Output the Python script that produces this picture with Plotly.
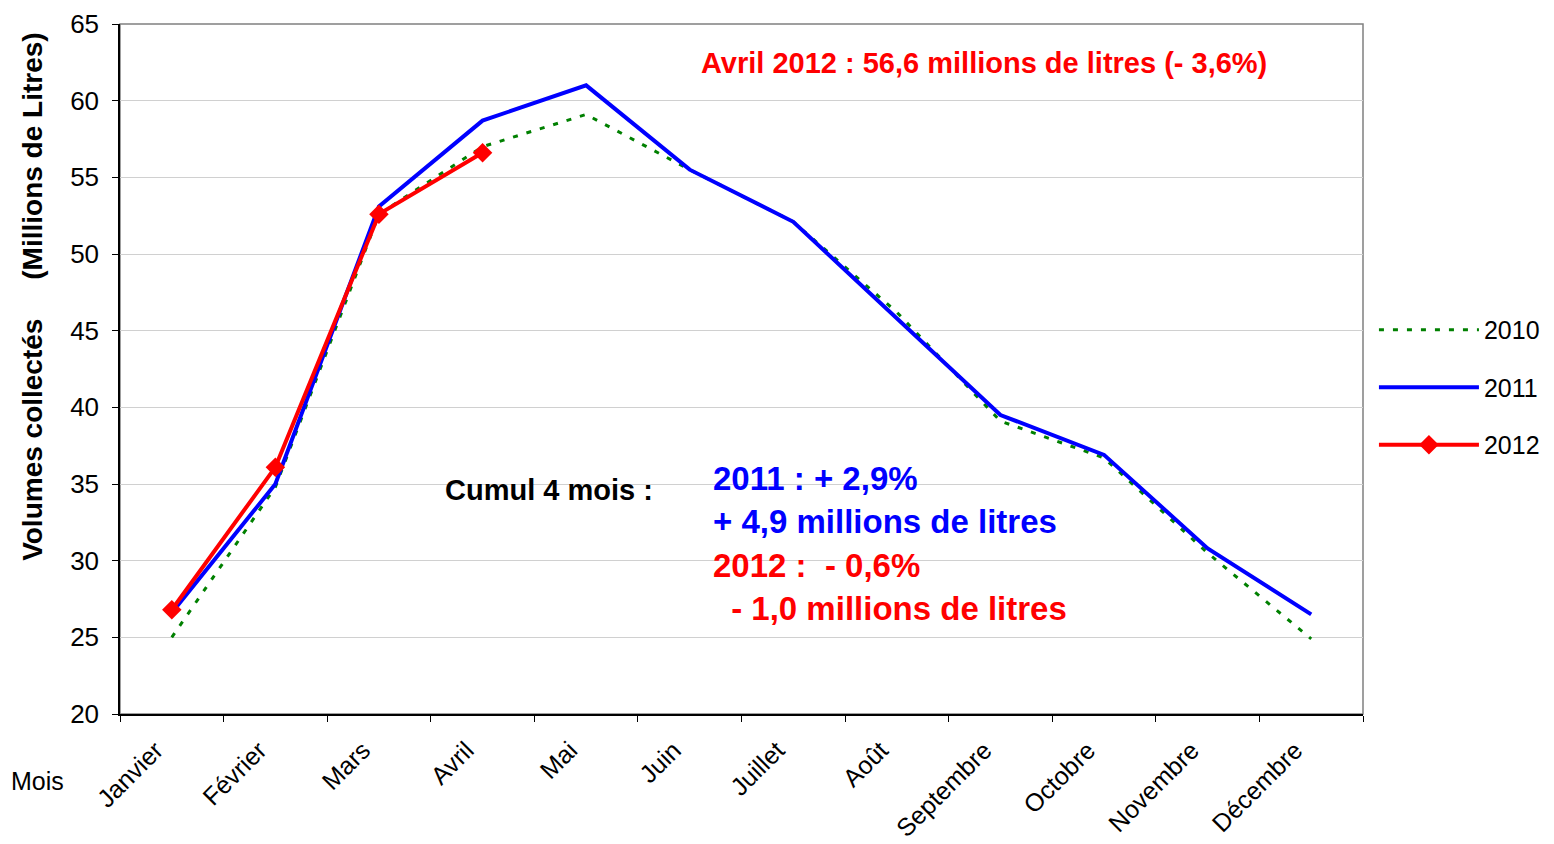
import plotly.graph_objects as go

# Mois
MONTHS = ["Janvier", "Février", "Mars", "Avril", "Mai", "Juin", "Juillet",
          "Août", "Septembre", "Octobre", "Novembre", "Décembre"]

# Volumes collectés (millions de litres)
VOL_2010 = [25.0, 34.8, 52.6, 57.0, 59.1, 55.5, 52.1, 46.2, 39.1, 36.7, 30.5, 24.9]
VOL_2011 = [26.6, 35.0, 53.1, 58.7, 61.0, 55.5, 52.1, 45.8, 39.5, 36.9, 30.8, 26.5]
VOL_2012 = [26.8, 36.1, 52.6, 56.6]

Y_TICKS = [20, 25, 30, 35, 40, 45, 50, 55, 60, 65]

FONT = "Liberation Sans, Arial, sans-serif"
NBSP = "\u00a0"

fig = go.Figure()

fig.add_trace(go.Scatter(
    x=MONTHS, y=VOL_2010, name="2010", mode="lines",
    line=dict(color="#008000", width=3, dash="5px,9px"),
    legendgroup="a",
))
fig.add_trace(go.Scatter(
    x=MONTHS, y=VOL_2011, name="2011", mode="lines",
    line=dict(color="#0000FF", width=4),
    legendgroup="b",
))
fig.add_trace(go.Scatter(
    x=MONTHS[:len(VOL_2012)], y=VOL_2012, name="2012", mode="lines+markers",
    line=dict(color="#FF0000", width=4),
    marker=dict(symbol="diamond", size=15, color="#FF0000"),
    legendgroup="c",
))

# cadre gris du graphique
fig.add_shape(type="rect", xref="paper", yref="paper", x0=0, y0=0, x1=1, y1=1,
              line=dict(color="#808080", width=1.5), layer="below")

def note(text, x, y, color, anchor="left", size=29, bold=True):
    fig.add_annotation(
        text=f"<b>{text}</b>" if bold else text,
        xref="paper", yref="paper", x=x, y=y,
        xanchor=anchor, yanchor="middle", showarrow=False,
        font=dict(family=FONT, size=size, color=color),
    )

note("Avril 2012 : 56,6 millions de litres (- 3,6%)", 0.695, 0.9435, "#FF0000", anchor="center")
note("Cumul 4 mois :", 0.26, 0.3246, "#000000")
note("2011 : + 2,9%", 0.4755, 0.342, "#0000FF", size=33)
note("+ 4,9 millions de litres", 0.4755, 0.2797, "#0000FF", size=33)
note(f"2012 :{NBSP} - 0,6%", 0.4755, 0.2145, "#FF0000", size=33)
note(f"{NBSP}- 1,0 millions de litres", 0.4827, 0.1536, "#FF0000", size=33)

# titre de l'axe Y
fig.add_annotation(
    text=f"<b>Volumes collectés{NBSP * 5}(Millions de Litres)</b>",
    xref="paper", yref="paper", x=-0.07, y=0.606, textangle=-90,
    xanchor="center", yanchor="middle", showarrow=False,
    font=dict(family=FONT, size=28, color="#000000"),
)
note("Mois", -0.066, -0.097, "#000000", anchor="center", size=25, bold=False)

fig.update_layout(
    width=1538, height=836,
    margin=dict(l=112, r=183, t=16, b=130, autoexpand=False),
    paper_bgcolor="white", plot_bgcolor="white",
    font=dict(family=FONT, size=26, color="#000000"),
    showlegend=True,
    legend=dict(
        x=1.0088, y=0.590, xanchor="left", yanchor="top",
        itemwidth=100, tracegroupgap=22,
        font=dict(family=FONT, size=25),
        bgcolor="rgba(0,0,0,0)",
    ),
    xaxis=dict(
        type="category", range=[-0.5, 11.5], automargin=False,
        showline=True, linecolor="#000000", linewidth=1.5,
        ticks="outside", tickson="boundaries", ticklen=6, tickcolor="#000000",
        tickangle=-45, showgrid=False, zeroline=False,
        ticklabelstandoff=10, ticklabelshift=-16,
        tickfont=dict(family=FONT, size=25),
    ),
    yaxis=dict(
        range=[20, 65], tickvals=Y_TICKS, automargin=False,
        showline=True, linecolor="#000000", linewidth=1.5,
        ticks="outside", ticklen=6, tickcolor="#000000",
        showgrid=True, gridcolor="#D0D0D0", gridwidth=1, zeroline=False,
        ticklabelstandoff=8,
        tickfont=dict(family=FONT, size=26),
    ),
)

fig.write_html("out.html")
